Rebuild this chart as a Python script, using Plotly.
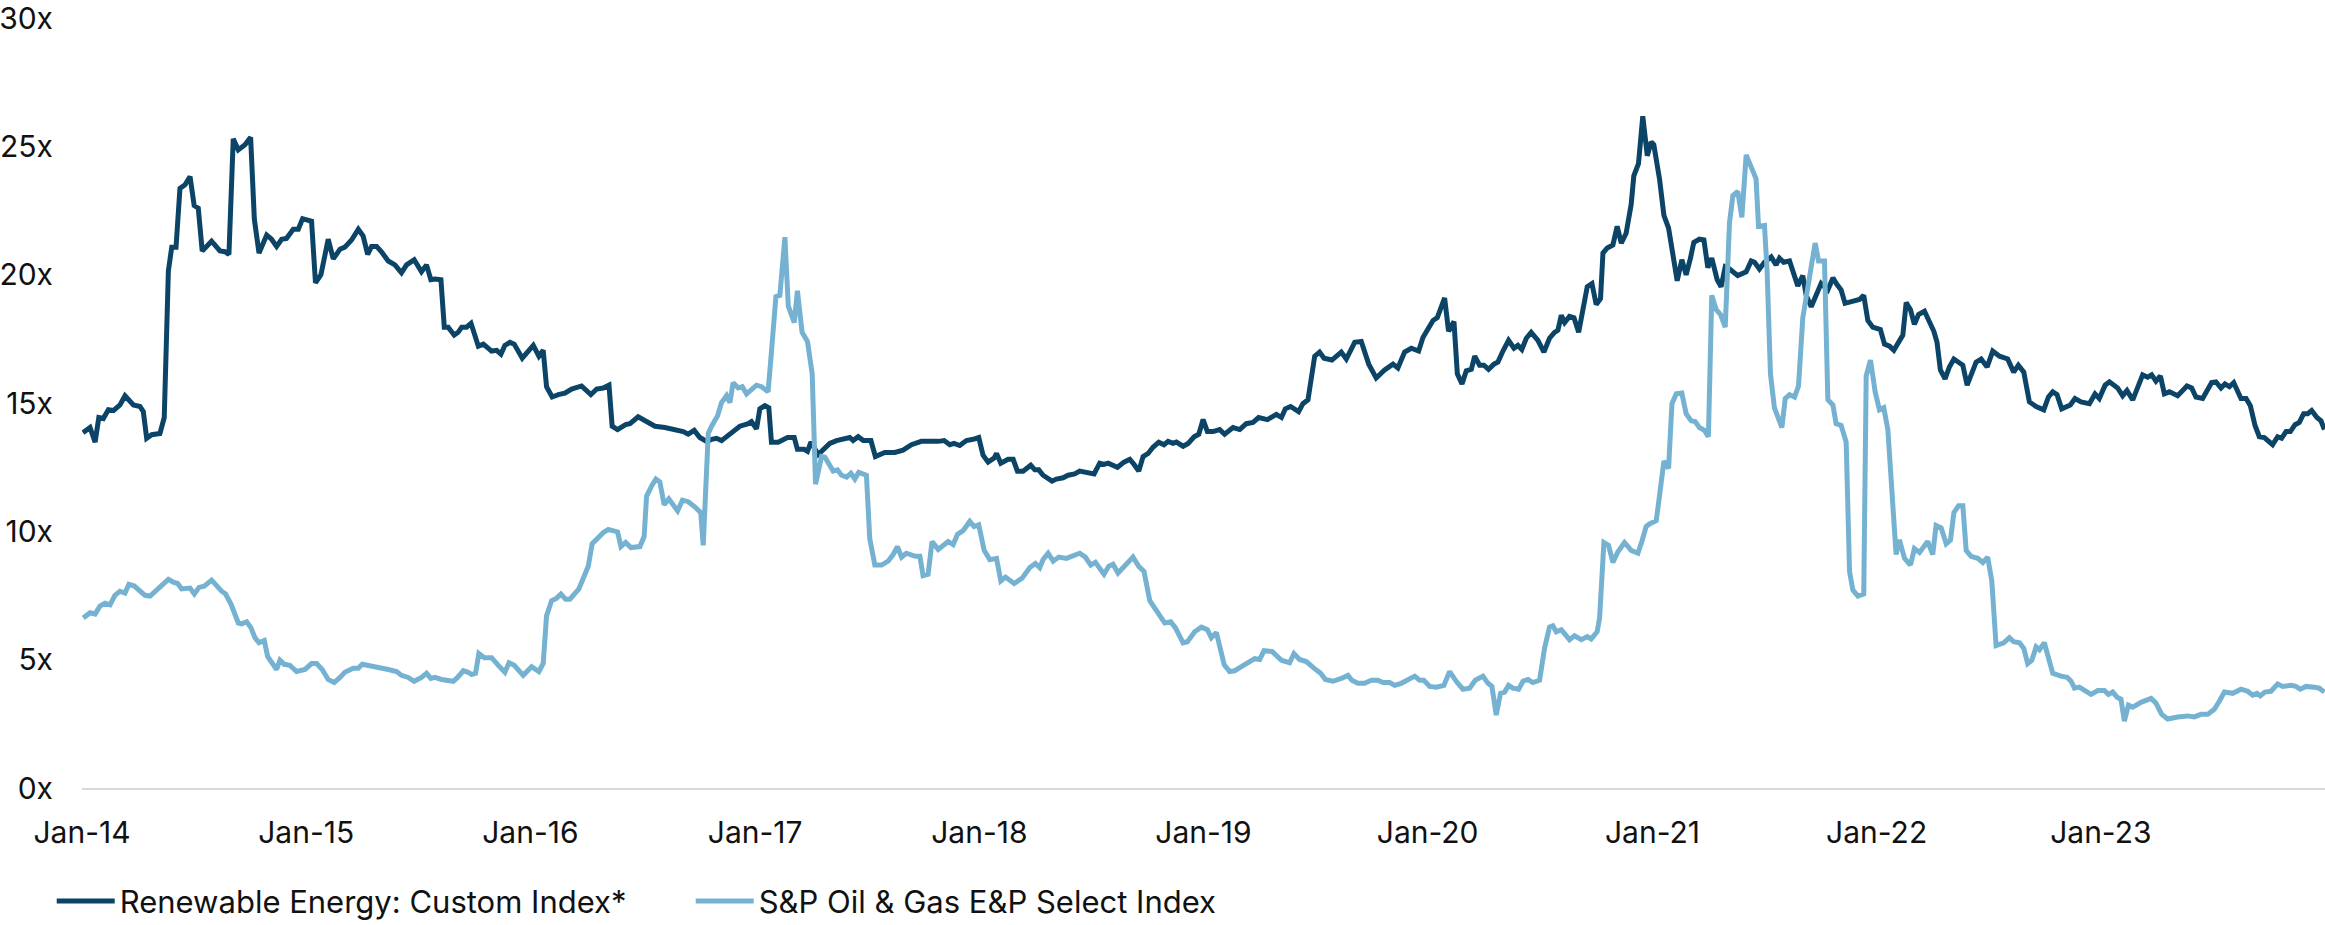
import numpy as np
import pandas as pd
import plotly.graph_objects as go

# Forward P/E multiples, Jan-2014 to Dec-2023.
# x positions are months elapsed since 1 Jan 2014.
START = pd.Timestamp("2014-01-01")

renew_m = [
    0.05, 0.43, 0.7, 0.9, 1.14, 1.41, 1.68, 2.03, 2.3, 2.75, 3.1, 3.28, 3.46, 3.73, 4.17, 4.4,
    4.62, 4.8, 5.03, 5.24, 5.51, 5.78, 6.0, 6.22, 6.43, 6.93, 7.38, 7.65, 7.86, 8.09, 8.36, 8.72,
    9.02, 9.22, 9.47, 9.88, 10.14, 10.41, 10.68, 10.94, 11.3, 11.57, 11.8, 12.28, 12.49, 12.78,
    13.17, 13.44, 13.8, 14.06, 14.42, 14.78, 15.04, 15.28, 15.49, 15.76, 16.02, 16.38, 16.74,
    17.09, 17.36, 17.77, 18.16, 18.43, 18.66, 18.88, 19.2, 19.38, 19.59, 19.91, 20.12,
    20.31, 20.57, 20.81, 21.2, 21.47, 21.91, 22.18, 22.41, 22.62, 22.89, 23.12, 23.55, 23.87,
    24.14, 24.44, 24.67, 24.85, 25.15, 25.48, 25.83, 26.19, 26.72, 27.22, 27.53, 27.88, 28.19,
    28.36, 28.65, 29.08, 29.31, 29.75, 30.2, 30.65, 31.18, 31.71, 32.16, 32.43, 32.75, 33.05,
    33.41, 33.68, 33.94, 34.21, 34.75, 35.19, 35.64, 35.81, 36.08, 36.26, 36.53, 36.74, 36.88,
    37.24, 37.74, 38.1, 38.27, 38.63, 38.81, 38.99, 39.38, 39.65, 40.0, 40.36,
    40.63, 41.07, 41.25, 41.52, 41.79, 42.2, 42.44, 42.94, 43.48, 43.92, 44.37, 44.9, 45.8,
    46.12, 46.42, 46.65, 46.95, 47.31, 47.67, 47.97, 48.2, 48.47, 48.79, 48.92, 49.15, 49.54,
    49.81, 50.04, 50.34, 50.75, 50.97, 51.18, 51.41, 51.89, 52.12, 52.48, 52.75, 53.1, 53.37,
    53.64, 54.14, 54.44, 54.67, 54.89, 55.39, 55.74, 56.05, 56.28, 56.53, 56.76, 57.03, 57.29,
    57.6, 57.88, 58.1, 58.36, 58.54, 58.9, 59.17, 59.49, 59.74, 59.97, 60.2, 60.5, 60.86,
    61.12, 61.57, 61.93, 62.28, 62.64, 62.94, 63.41, 63.89, 64.16, 64.37, 64.65, 65.08, 65.31,
    65.58, 65.94, 66.2, 66.44, 66.86, 67.36, 67.63, 68.08, 68.43, 68.83, 69.23, 69.68, 70.13,
    70.39, 70.75, 71.11, 71.5, 71.73, 72.0, 72.27, 72.5, 72.89, 73.1, 73.39, 73.57, 73.82,
    74.05, 74.32, 74.5, 74.76, 74.99, 75.24, 75.53, 75.74, 76.01, 76.31, 76.6, 76.81, 77.02,
    77.26, 77.52, 77.88, 78.2, 78.5, 78.77, 78.95, 79.13, 79.31, 79.57, 79.81, 80.06, 80.29,
    80.52, 80.77, 81.0, 81.23,
    81.36, 81.59, 81.89, 82.12, 82.34, 82.6, 82.87, 83.01, 83.26, 83.49, 83.73, 83.94, 84.08,
    84.39, 84.62, 84.87, 85.1, 85.33, 85.58, 85.81, 86.04, 86.22, 86.52, 86.76, 86.97, 87.18,
    87.47, 87.68, 87.9, 88.13, 88.57, 89.02, 89.29, 89.47, 89.73, 90.0, 90.36, 90.62, 90.8,
    91.03, 91.34, 91.57, 91.78, 92.05, 92.23, 92.5, 92.76, 93.03, 93.39, 93.66, 93.89, 94.1,
    94.31, 94.72, 95.08, 95.31, 95.53, 95.79, 96.2, 96.42, 96.69, 96.92, 97.22, 97.4, 97.58,
    97.81, 98.02, 98.24, 98.56, 98.82, 99.06, 99.23, 99.41, 99.66, 99.89, 100.13, 100.37,
    100.61, 100.84, 101.05, 101.32, 101.59,
    101.91, 102.21, 102.57, 103.01, 103.33, 103.58, 103.87, 104.17, 104.53, 104.94, 105.19,
    105.42, 105.65, 105.9, 106.36, 106.61, 106.93, 107.38, 107.68, 107.91, 108.22, 108.45,
    108.89, 109.16, 109.39, 109.7, 109.96, 110.23, 110.5, 110.71, 110.94, 111.18, 111.39,
    111.66, 112.1, 112.6, 112.85, 113.08, 113.44, 113.71, 113.92, 114.15, 114.42, 114.63,
    114.87, 115.1, 115.49, 115.76, 115.99, 116.24, 116.47, 116.74, 117.18, 117.45, 117.66,
    117.9, 118.13, 118.38, 118.61, 118.84, 119.06, 119.27, 119.55, 119.77, 119.95,
]
renew_pe = [
    13.85, 14.05, 13.48, 14.44, 14.4, 14.74, 14.71, 14.93, 15.29, 14.93, 14.87, 14.67, 13.63, 13.77, 13.82, 14.44,
    20.15, 21.08, 21.08, 23.37, 23.51, 23.83, 22.7, 22.6, 20.93, 21.31, 20.93, 20.9, 20.8, 25.3, 24.87, 25.07,
    25.36, 22.16, 20.85, 21.55, 21.39, 21.11, 21.39, 21.42, 21.78, 21.78, 22.19, 22.09, 19.69, 20.0,
    21.39, 20.62, 21.0, 21.08, 21.36, 21.78, 21.51, 20.8, 21.11, 21.11, 20.9, 20.54, 20.39,
    20.08, 20.39, 20.59, 20.12, 20.39, 19.81, 19.84, 19.81, 17.96, 17.96, 17.65, 17.76,
    17.96, 17.96, 18.11, 17.22, 17.3, 17.03, 17.06, 16.91, 17.25, 17.37, 17.3, 16.75, 17.03,
    17.25, 16.83, 17.06, 15.64, 15.24, 15.33, 15.39, 15.55, 15.67, 15.33, 15.55, 15.59, 15.7,
    14.1, 13.97, 14.16, 14.2, 14.47, 14.28, 14.1, 14.05, 13.97, 13.89, 13.79, 13.94, 13.66,
    13.51, 13.59, 13.63, 13.54, 13.82, 14.1, 14.2, 14.28, 14.0, 14.78, 14.9, 14.82, 13.48,
    13.48, 13.66, 13.66, 13.2, 13.2, 13.12, 13.48, 13.0, 13.2, 13.43, 13.54,
    13.59, 13.66, 13.54, 13.69, 13.54, 13.54, 12.92, 13.08, 13.08, 13.17, 13.38, 13.51, 13.51,
    13.54, 13.38, 13.43, 13.35, 13.54, 13.59, 13.66, 12.97, 12.7, 12.86, 13.04, 12.66, 12.81,
    12.81, 12.35, 12.35, 12.58, 12.4, 12.4, 12.19, 11.96, 12.04, 12.09, 12.19, 12.24, 12.35,
    12.3, 12.24, 12.66, 12.61, 12.66, 12.5, 12.7, 12.81, 12.61, 12.35, 12.92, 13.04, 13.28,
    13.48, 13.38, 13.51, 13.43, 13.48, 13.32, 13.43, 13.69, 13.79, 14.36, 13.89, 13.89, 13.97,
    13.79, 14.05, 13.97, 14.2, 14.25, 14.44, 14.36, 14.56, 14.44, 14.78, 14.87, 14.67, 14.98,
    15.13, 16.83, 16.99, 16.75, 16.68, 16.99, 16.72, 17.37, 17.4, 16.52, 15.98, 16.29, 16.52,
    16.37, 16.99, 17.14, 17.03, 17.56, 17.91, 18.22, 18.33, 19.1, 17.8, 18.18, 16.14, 15.75,
    16.26, 16.32, 16.83, 16.48, 16.48, 16.32, 16.52, 16.6, 17.03, 17.45, 17.14, 17.25, 17.09,
    17.53, 17.76, 17.45, 16.99, 17.53, 17.76, 17.84, 18.42, 18.14, 18.38, 18.33, 17.76, 18.61,
    19.54, 19.66, 18.84, 19.07,
    20.85, 21.05, 21.16, 21.89, 21.24, 21.62, 22.75, 23.86, 24.33, 26.18, 24.64, 25.18, 25.07,
    23.71, 22.32, 21.82, 20.7, 19.77, 20.59, 20.0, 20.65, 21.27, 21.39, 21.36, 20.28, 20.65,
    19.81, 19.54, 20.31, 20.23, 19.97, 20.12, 20.54, 20.49, 20.23, 20.49, 20.7, 20.39, 20.65,
    20.49, 20.54, 20.03, 19.57, 19.97, 19.2, 18.76, 19.26, 19.66, 19.41, 19.88, 19.61, 19.41,
    18.89, 18.95, 19.04, 19.2, 18.22, 17.96, 17.87, 17.3, 17.22, 17.06, 17.4, 17.65, 18.92,
    18.64, 18.07, 18.45, 18.58, 18.22, 17.8, 17.37, 16.29, 15.95, 16.41, 16.72, 16.57,
    16.48, 15.7, 16.06, 16.6, 16.72,
    16.41, 17.03, 16.83, 16.72, 16.21, 16.48, 16.21, 15.05, 14.87, 14.74, 15.24,
    15.44, 15.33, 14.78, 14.93, 15.18, 15.05, 14.98, 15.36, 15.18, 15.7, 15.83,
    15.59, 15.29, 15.49, 15.13, 15.59, 16.1, 16.01, 16.1, 15.86, 16.06, 15.36,
    15.44, 15.29, 15.67, 15.59, 15.24, 15.18, 15.49, 15.8, 15.83, 15.59, 15.75,
    15.64, 15.8, 15.18, 15.18, 14.9, 14.13, 13.69, 13.66, 13.38, 13.69, 13.63,
    13.89, 13.89, 14.16, 14.25, 14.59, 14.59, 14.71, 14.44, 14.31, 13.97,
]

oil_m = [
    0.07, 0.43, 0.7, 0.96, 1.23, 1.5, 1.76, 2.03, 2.3, 2.51, 2.8, 3.37, 3.64, 3.99, 4.3, 4.62,
    4.88, 5.12, 5.33, 5.78, 6.01, 6.26, 6.54, 6.93, 7.47, 7.68, 7.97, 8.18, 8.36, 8.54, 8.81,
    9.04, 9.25, 9.47, 9.75, 9.93, 10.18, 10.41, 10.59, 10.82, 11.12, 11.48, 11.93, 12.28,
    12.55, 12.85, 13.17, 13.49, 13.8, 14.06, 14.51, 14.78, 14.99, 15.76, 16.38, 16.83, 17.09,
    17.45, 17.77, 18.16, 18.43, 18.66, 18.88, 19.23, 19.59, 19.86, 20.09,
    20.4, 20.66, 20.84, 21.05, 21.23, 21.52, 21.91, 22.27, 22.62, 22.84, 23.12, 23.6, 24.05,
    24.44, 24.67, 24.85, 25.12, 25.39, 25.62, 25.87, 26.1, 26.58, 26.81, 27.08, 27.29, 27.53,
    27.88, 28.15, 28.42, 28.65, 28.83, 29.08, 29.36, 29.67, 29.84, 30.07, 30.2, 30.5, 30.7,
    30.91, 31.14, 31.39, 31.86, 32.12, 32.43, 32.78, 33.1, 33.23, 33.5, 33.68, 34.0, 34.21,
    34.48, 34.66, 34.83, 35.1, 35.32, 35.55, 36.08, 36.35, 36.7, 36.88, 37.12, 37.33, 37.6,
    37.78, 38.1, 38.27, 38.52, 38.81, 39.06, 39.24, 39.56, 39.74, 40.18, 40.41,
    40.63, 40.9, 41.13, 41.34, 41.55, 41.96, 42.14, 42.41, 42.77, 43.12, 43.39, 43.62, 43.84,
    44.1, 44.58, 44.82, 44.99, 45.26, 45.47, 45.8, 46.06, 46.33, 46.6, 46.83, 47.13, 47.49,
    47.72, 47.97, 48.26, 48.56, 48.92, 49.15, 49.4, 49.86, 50.29, 50.7, 51.0, 51.23, 51.41,
    51.68, 51.95, 52.25, 52.66, 53.02, 53.37, 53.67, 53.96, 54.21, 54.67, 54.92, 55.15, 55.42,
    55.81, 56.22, 56.53, 56.81, 57.12, 57.47, 57.92, 58.24, 58.49, 58.9, 59.13, 59.52, 59.88,
    60.2, 60.41, 60.68,
    61.1, 61.39, 61.66, 62.02, 62.37, 62.73, 63.0, 63.23, 63.66, 63.89, 64.16, 64.6, 64.83,
    65.13, 65.49, 65.9, 66.26, 66.51, 66.92, 67.36, 67.72, 67.93, 68.25, 68.61, 68.97, 69.32,
    69.59, 69.95, 70.22, 70.57, 70.93, 71.29, 71.55, 71.78, 72.09, 72.44, 72.85, 73.16, 73.51,
    73.87, 74.23, 74.53, 74.94, 75.21, 75.42, 75.65, 75.88, 76.1, 76.31, 76.54, 76.85, 77.08,
    77.35, 77.61, 77.97, 78.24, 78.5, 78.68, 78.86, 79.13, 79.57, 79.84, 80.2, 80.52, 80.73,
    81.05,
    81.18, 81.41, 81.66, 81.89, 82.16, 82.51, 82.87, 83.23, 83.44, 83.67, 83.85, 84.21, 84.39,
    84.62, 84.87, 85.05, 85.28, 85.58, 85.81, 86.08, 86.29, 86.52, 86.79, 87.0, 87.18, 87.42,
    87.65, 87.9, 88.13, 88.31, 88.57, 88.79, 89.02, 89.29, 89.55, 89.68, 90.0, 90.14, 90.32,
    90.53, 90.71, 90.93, 91.11, 91.34, 91.61, 91.82, 92.05, 92.32, 92.53, 92.71, 92.89, 93.21,
    93.39, 93.66, 93.83, 94.1, 94.37, 94.55, 94.73, 95.0, 95.31, 95.44, 95.67, 95.92, 96.15,
    96.38, 96.6, 96.86, 97.04, 97.22, 97.49, 97.81, 98.02, 98.29, 98.56, 98.73, 99.0, 99.18,
    99.45, 99.72, 99.95, 100.13, 100.38, 100.61, 100.79, 101.05, 101.41,
    101.68, 101.94, 102.16, 102.39, 102.8, 103.1, 103.33, 103.64, 103.87, 104.08, 104.3,
    104.53, 104.71, 104.97, 105.15, 105.42, 105.86, 106.19, 106.4, 106.58, 106.84, 107.2,
    107.47, 107.83, 108.18, 108.4, 108.63, 108.86, 109.07, 109.25, 109.47, 109.7, 110.14,
    110.68, 110.94, 111.25, 111.57, 112.1, 112.64, 112.99, 113.35, 113.71, 114.06, 114.33,
    114.6, 115.05, 115.49, 115.85, 116.11, 116.35, 116.52, 116.77, 117.09, 117.45, 117.72,
    118.17, 118.43, 118.66, 118.97, 119.41, 119.68, 119.95,
]
oil_pe = [
    6.63, 6.83, 6.78, 7.09, 7.2, 7.14, 7.51, 7.67, 7.6, 7.94, 7.87, 7.51, 7.48, 7.71, 7.87, 8.13,
    8.02, 7.97, 7.76, 7.79, 7.56, 7.82, 7.87, 8.1, 7.67, 7.56, 7.17, 6.78, 6.43, 6.4, 6.48,
    6.24, 5.86, 5.66, 5.75, 5.13, 4.88, 4.62, 4.98, 4.82, 4.78, 4.54, 4.62, 4.85,
    4.85, 4.62, 4.23, 4.11, 4.31, 4.51, 4.67, 4.67, 4.82, 4.73, 4.62, 4.54, 4.39,
    4.31, 4.16, 4.31, 4.47, 4.27, 4.31, 4.23, 4.2, 4.16, 4.31,
    4.57, 4.51, 4.42, 4.47, 5.24, 5.08, 5.08, 4.78, 4.51, 4.88, 4.78, 4.39, 4.73,
    4.54, 4.85, 6.71, 7.3, 7.4, 7.56, 7.36, 7.36, 7.76, 8.18, 8.64, 9.52, 9.72,
    9.95, 10.08, 10.03, 9.98, 9.41, 9.57, 9.37, 9.41, 9.41, 9.8, 11.37, 11.81, 12.04,
    11.93, 11.04, 11.27, 10.8, 11.22, 11.16, 10.96, 10.73, 9.46, 13.82, 14.1, 14.51, 15.02,
    15.29, 15.02, 15.8, 15.59, 15.64, 15.36, 15.7, 15.64, 15.44, 16.99, 19.15, 19.2, 21.47,
    18.79, 18.14, 19.38, 17.76, 17.4, 16.14, 11.84, 12.92, 12.89, 12.35, 12.4,
    12.19, 12.12, 12.27, 12.04, 12.3, 12.19, 9.72, 8.69, 8.69, 8.84, 9.1, 9.41, 9.0,
    9.15, 9.03, 9.03, 8.28, 8.33, 9.61, 9.3, 9.46, 9.61, 9.49, 9.88, 10.03, 10.39,
    10.19, 10.26, 9.26, 8.9, 8.95, 8.07, 8.22, 7.97, 8.18, 8.59, 8.75, 8.59, 8.9,
    9.15, 8.84, 9.0, 8.95, 9.06, 9.15, 9.0, 8.69, 8.8, 8.33, 8.64, 8.72, 8.38,
    8.69, 9.0, 8.64, 8.44, 7.3, 6.89, 6.43, 6.48, 6.24, 5.66, 5.7, 6.09, 6.27,
    6.17, 5.86, 6.06,
    4.8, 4.54, 4.57, 4.73, 4.88, 5.04, 5.01, 5.35, 5.32, 5.16, 4.98, 4.88, 5.24,
    5.01, 4.93, 4.67, 4.47, 4.23, 4.16, 4.27, 4.39, 4.2, 4.08, 4.08, 4.2, 4.2,
    4.11, 4.11, 4.0, 4.08, 4.23, 4.36, 4.2, 4.2, 3.96, 3.93, 4.0, 4.54, 4.16,
    3.85, 3.89, 4.2, 4.36, 4.08, 3.96, 2.84, 3.69, 3.74, 4.0, 3.89, 3.85, 4.16,
    4.23, 4.11, 4.2, 5.47, 6.27, 6.32, 6.09, 6.17, 5.78, 5.93, 5.78, 5.9, 5.81,
    6.09,
    6.63, 9.57, 9.46, 8.79, 9.21, 9.57, 9.26, 9.15, 9.61, 10.19, 10.29, 10.42, 11.42,
    12.74, 12.46, 14.98, 15.36, 15.39, 14.59, 14.31, 14.28, 14.05, 13.94, 13.69, 19.2, 18.64,
    18.45, 17.96, 22.04, 23.09, 23.25, 22.24, 24.67, 24.25, 23.74, 21.89, 21.93, 20.15, 16.14,
    14.82, 14.44, 14.05, 15.18, 15.33, 15.24, 15.67, 18.33, 19.57, 20.54, 21.24, 20.54, 20.54,
    15.13, 14.93, 14.2, 14.13, 13.48, 8.44, 7.71, 7.48, 7.56, 16.06, 16.68, 15.44, 14.74,
    14.82, 13.97, 11.19, 9.1, 9.67, 8.95, 8.69, 9.33, 9.18, 9.46, 9.61, 9.1, 10.23,
    10.14, 9.52, 9.67, 10.73, 11.0, 11.0, 9.26, 9.03, 8.95,
    8.79, 9.0, 8.07, 5.55, 5.66, 5.86, 5.7, 5.66, 5.44, 4.85, 4.98,
    5.5, 5.39, 5.66, 5.16, 4.47, 4.36, 4.31, 4.16, 3.89, 3.93, 3.77,
    3.65, 3.8, 3.8, 3.65, 3.74, 3.54, 3.46, 2.61, 3.23, 3.15, 3.34,
    3.49, 3.31, 2.87, 2.69, 2.77, 2.81, 2.77, 2.87, 2.87, 3.07, 3.38,
    3.74, 3.69, 3.85, 3.77, 3.62, 3.69, 3.59, 3.74, 3.77, 4.05, 3.96,
    4.0, 3.96, 3.85, 3.96, 3.93, 3.89, 3.74,
]

tick_dates = [f"{y}-01-01" for y in range(2014, 2024)]
tick_labels = ["Jan-14", "Jan-15", "Jan-16", "Jan-17", "Jan-18",
               "Jan-19", "Jan-20", "Jan-21", "Jan-22", "Jan-23"]
y_ticks = [0, 5, 10, 15, 20, 25, 30]
y_labels = [f"{v}x" for v in y_ticks]

DAYS_PER_MONTH = 365.25 / 12


def to_dates(months):
    return START + pd.to_timedelta(np.asarray(months) * DAYS_PER_MONTH, unit="D")


DARK = "#0B4466"
LIGHT = "#75B2D1"
FONT = "Inter"
TEXT = "#111111"

fig = go.Figure()
fig.add_trace(go.Scatter(
    x=to_dates(renew_m), y=renew_pe, mode="lines",
    name="Renewable Energy: Custom Index*",
    line=dict(color=DARK, width=5),
))
fig.add_trace(go.Scatter(
    x=to_dates(oil_m), y=oil_pe, mode="lines",
    name="S&P Oil & Gas E&P Select Index",
    line=dict(color=LIGHT, width=5),
))

fig.update_layout(
    width=2325, height=925,
    margin=dict(l=82, r=0, t=17, b=137, autoexpand=False),
    paper_bgcolor="white", plot_bgcolor="white",
    font=dict(family=FONT, size=30, color=TEXT),
    showlegend=True,
    legend=dict(
        orientation="h", x=-0.0135, xanchor="left", y=-0.147, yanchor="middle",
        font=dict(family=FONT, size=31, color=TEXT),
        itemwidth=58, tracegroupgap=0,
        entrywidth=566, entrywidthmode="pixels",
        bgcolor="rgba(0,0,0,0)", borderwidth=0,
    ),
    xaxis=dict(
        type="date", range=["2014-01-01", "2024-01-01"],
        tickmode="array", tickvals=tick_dates, ticktext=tick_labels,
        showgrid=False, zeroline=False,
        showline=True, linecolor="#D9D9D9", linewidth=2,
        ticks="", ticklabelstandoff=17, ticklabeloverflow="allow",
        tickfont=dict(family=FONT, size=30, color=TEXT),
    ),
    yaxis=dict(
        range=[0, 30.05], tickmode="array", tickvals=y_ticks, ticktext=y_labels,
        showgrid=False, zeroline=False, showline=False,
        ticks="", ticklabelstandoff=28, ticklabeloverflow="allow",
        tickfont=dict(family=FONT, size=30, color=TEXT),
    ),
)

fig.write_html("out.html")
